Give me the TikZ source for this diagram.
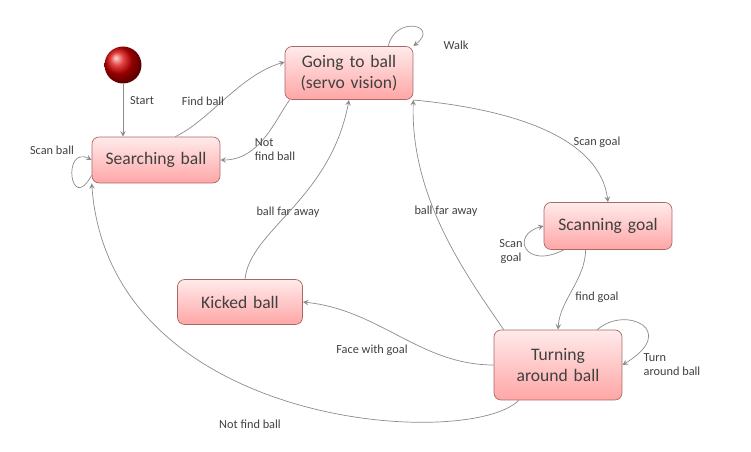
\documentclass[tikz,border=0pt]{standalone}
\usepackage{fontspec}
\setmainfont{Carlito}
\usepackage{tikz}
\usetikzlibrary{arrows,positioning,calc,shadings}

\begin{document}
\begin{tikzpicture}[
    x=0.02cm, y=-0.02cm,
    state/.style={rectangle, draw=red!45!black!60, rounded corners=4pt, top color=red!8, bottom color=red!35, text width=2.3cm, inner xsep=2pt, align=center, minimum width=2.56cm, font=\normalsize, text=black!75},
    arrow/.style={->, >=stealth, thin, draw=black!45},
    lbl/.style={font=\scriptsize, text=black!75}
]
\useasboundingbox (0,0) rectangle (751,452);

% States
\node[circle, minimum size=0.74cm, inner sep=0pt, ball color=red!85!black, draw=none] (start) at (123,65) {};
\node[state, minimum height=0.92cm] (search) at (156,160) {Searching ball};
\node[state, minimum height=1.06cm] (going) at (349,73) {Going to ball\\(servo vision)};
\node[state, minimum height=0.94cm] (scan) at (608,226) {Scanning goal};
\node[state, minimum height=0.9cm, minimum width=2.5cm] (kicked) at (240,302) {Kicked ball};
\node[state, minimum height=1.4cm] (turn) at (558,365) {Turning\\around ball};

% Arrows
\draw[arrow] (start) -- (search.north -| start);
\draw[arrow] (search.north east) ++(-45,0) .. controls (210,120) and (240,75) .. (going.west |- 0,62);
\draw[arrow] (going.south west) ++(5,0) .. controls (275,120) and (260,160) .. (search.east);
\draw[arrow] (going.north east) ++(-25,0) .. controls (395,15) and (440,25) .. (going.north east);
\draw[arrow] (search.south west) ++(0,-8) .. controls (70,215) and (62,145) .. (search.west);
\draw[arrow] (going.east |- 0,100) .. controls (520,110) and (600,140) .. (scan.north);
\draw[arrow] (scan.south west) ++(20,0) .. controls (525,270) and (510,235) .. (scan.west);
\draw[arrow] (scan.south west) ++(42,0) .. controls (585,280) and (560,300) .. (turn.north);
\draw[arrow] (turn.north east) ++(-25,0) .. controls (625,305) and (680,330) .. (turn.east);
\draw[arrow] (turn.west) .. controls (420,365) and (380,310) .. (kicked.east);
\draw[arrow] (kicked.north) ++(5,0) .. controls (250,230) and (330,200) .. (going.south |- 0,100);
\draw[arrow] (turn.north west) ++(10,0) .. controls (470,280) and (410,200) .. (going.south east);
\draw[arrow] (turn.south west) ++(25,0) .. controls (470,450) and (110,430) .. (search.south west);

% Labels
\node[lbl] (lstart) at (142,101) {Start};
\node[lbl] (lfind) at (203,101) {Find ball};
\node[lbl, align=left] (lnot) at (275,150) {Not\\find ball};
\node[lbl] (lwalk) at (456,45) {Walk};
\node[lbl] (lscanb) at (52,150) {Scan ball};
\node[lbl] (lscang) at (597,142) {Scan goal};
\node[lbl, align=center] (lscang2) at (511,252) {Scan\\goal};
\node[lbl] (lfindg) at (597,297) {find goal};
\node[lbl, align=left] (lturn) at (672,365) {Turn\\around ball};
\node[lbl] (lface) at (372,350) {Face with goal};
\node[lbl] (lfar1) at (288,212) {ball far away};
\node[lbl] (lfar2) at (446,211) {ball far away};
\node[lbl] (lnot2) at (250,424) {Not find ball};
\end{tikzpicture}
\end{document}
